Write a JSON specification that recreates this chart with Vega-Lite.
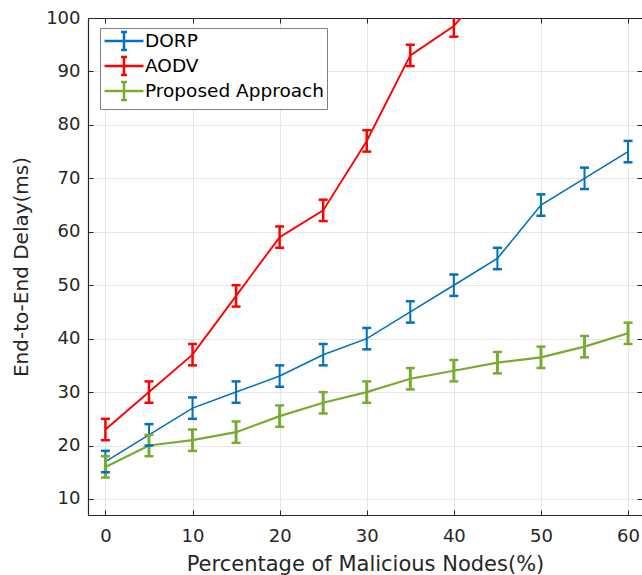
{
  "$schema": "https://vega.github.io/schema/vega-lite/v6.json",
  "width": 554,
  "height": 497,
  "autosize": {"type": "none"},
  "padding": {"left": 88, "top": 18, "right": 0, "bottom": 60},
  "background": "white",
  "config": {
    "view": {"stroke": null},
    "font": "DejaVu Sans",
    "axis": {
      "domainColor": "#262626",
      "tickColor": "#262626",
      "labelColor": "#262626",
      "titleColor": "#262626",
      "labelFont": "DejaVu Sans",
      "titleFont": "DejaVu Sans",
      "labelFontSize": 18,
      "titleFontSize": 21,
      "titleFontWeight": "normal",
      "gridColor": "#e6e6e6",
      "tickSize": -5,
      "domainWidth": 1.2
    },
    "legend": {
      "orient": "none",
      "legendX": 12,
      "legendY": 10,
      "title": null,
      "symbolType": "M-2.29,0H2.29M0,-1.06V1.06M-0.35,-1.06H0.35M-0.35,1.06H0.35",
      "symbolSize": 289,
      "symbolStrokeWidth": 2.5,
      "symbolOffset": 11,
      "labelFontSize": 18.5,
      "labelColor": "#000000",
      "labelFont": "DejaVu Sans",
      "labelLimit": 0,
      "strokeColor": "#808080",
      "fillColor": "white",
      "padding": 3,
      "rowPadding": -5,
      "labelOffset": 11
    }
  },
  "data": {
    "values": [
      {"x": 0, "s": "DORP", "y": 17, "lo": 15, "hi": 19},
      {"x": 5, "s": "DORP", "y": 22, "lo": 20, "hi": 24},
      {"x": 10, "s": "DORP", "y": 27, "lo": 25, "hi": 29},
      {"x": 15, "s": "DORP", "y": 30, "lo": 28, "hi": 32},
      {"x": 20, "s": "DORP", "y": 33, "lo": 31, "hi": 35},
      {"x": 25, "s": "DORP", "y": 37, "lo": 35, "hi": 39},
      {"x": 30, "s": "DORP", "y": 40, "lo": 38, "hi": 42},
      {"x": 35, "s": "DORP", "y": 45, "lo": 43, "hi": 47},
      {"x": 40, "s": "DORP", "y": 50, "lo": 48, "hi": 52},
      {"x": 45, "s": "DORP", "y": 55, "lo": 53, "hi": 57},
      {"x": 50, "s": "DORP", "y": 65, "lo": 63, "hi": 67},
      {"x": 55, "s": "DORP", "y": 70, "lo": 68, "hi": 72},
      {"x": 60, "s": "DORP", "y": 75, "lo": 73, "hi": 77},
      {"x": 0, "s": "AODV", "y": 23, "lo": 21, "hi": 25},
      {"x": 5, "s": "AODV", "y": 30, "lo": 28, "hi": 32},
      {"x": 10, "s": "AODV", "y": 37, "lo": 35, "hi": 39},
      {"x": 15, "s": "AODV", "y": 48, "lo": 46, "hi": 50},
      {"x": 20, "s": "AODV", "y": 59, "lo": 57, "hi": 61},
      {"x": 25, "s": "AODV", "y": 64, "lo": 62, "hi": 66},
      {"x": 30, "s": "AODV", "y": 77, "lo": 75, "hi": 79},
      {"x": 35, "s": "AODV", "y": 93, "lo": 91, "hi": 95},
      {"x": 40, "s": "AODV", "y": 98.5, "lo": 96.5, "hi": 100.5},
      {"x": 45, "s": "AODV", "y": 108, "lo": 106, "hi": 110},
      {"x": 0, "s": "Proposed Approach", "y": 16, "lo": 14, "hi": 18},
      {"x": 5, "s": "Proposed Approach", "y": 20, "lo": 18, "hi": 22},
      {"x": 10, "s": "Proposed Approach", "y": 21, "lo": 19, "hi": 23},
      {"x": 15, "s": "Proposed Approach", "y": 22.5, "lo": 20.5, "hi": 24.5},
      {"x": 20, "s": "Proposed Approach", "y": 25.5, "lo": 23.5, "hi": 27.5},
      {"x": 25, "s": "Proposed Approach", "y": 28, "lo": 26, "hi": 30},
      {"x": 30, "s": "Proposed Approach", "y": 30, "lo": 28, "hi": 32},
      {"x": 35, "s": "Proposed Approach", "y": 32.5, "lo": 30.5, "hi": 34.5},
      {"x": 40, "s": "Proposed Approach", "y": 34, "lo": 32, "hi": 36},
      {"x": 45, "s": "Proposed Approach", "y": 35.5, "lo": 33.5, "hi": 37.5},
      {"x": 50, "s": "Proposed Approach", "y": 36.5, "lo": 34.5, "hi": 38.5},
      {"x": 55, "s": "Proposed Approach", "y": 38.5, "lo": 36.5, "hi": 40.5},
      {"x": 60, "s": "Proposed Approach", "y": 41, "lo": 39, "hi": 43}
    ]
  },
  "encoding": {
    "color": {
      "field": "s",
      "type": "nominal",
      "scale": {"domain": ["DORP", "AODV", "Proposed Approach"], "range": ["#0072BD", "#FF0000", "#77AC30"]},
      "legend": {}
    }
  },
  "layer": [
    {
      "mark": {"type": "line", "clip": true},
      "encoding": {
        "x": {"field": "x", "type": "quantitative", "scale": {"domain": [-2, 61.6], "nice": false, "zero": false},
              "axis": {"orient": "bottom", "values": [0, 10, 20, 30, 40, 50, 60], "title": "Percentage of Malicious Nodes(%)", "labelPadding": 17, "titlePadding": 8, "grid": true}},
        "y": {"field": "y", "type": "quantitative", "scale": {"domain": [7, 100], "nice": false, "zero": false},
              "axis": {"orient": "left", "values": [10, 20, 30, 40, 50, 60, 70, 80, 90, 100], "title": "End-to-End Delay(ms)", "titleFontSize": 20, "labelPadding": 13, "titlePadding": 14, "grid": true}},
        "strokeWidth": {"field": "s", "type": "nominal", "scale": {"domain": ["DORP", "AODV", "Proposed Approach"], "range": [1.6, 2.2, 2.4]}, "legend": null}
      }
    },
    {
      "mark": {"type": "rule", "clip": true},
      "encoding": {
        "x": {"field": "x", "type": "quantitative", "axis": null},
        "y": {"field": "lo", "type": "quantitative", "axis": null},
        "y2": {"field": "hi"},
        "strokeWidth": {"field": "s", "type": "nominal", "scale": {"domain": ["DORP", "AODV", "Proposed Approach"], "range": [2, 3, 3]}, "legend": null}
      }
    },
    {
      "mark": {"type": "tick", "orient": "horizontal", "size": 9, "thickness": 2.5, "clip": true, "opacity": 1},
      "encoding": {
        "x": {"field": "x", "type": "quantitative", "axis": null},
        "y": {"field": "lo", "type": "quantitative", "axis": null}
      }
    },
    {
      "mark": {"type": "tick", "orient": "horizontal", "size": 9, "thickness": 2.5, "clip": true, "opacity": 1},
      "encoding": {
        "x": {"field": "x", "type": "quantitative",
              "axis": {"orient": "top", "values": [0, 10, 20, 30, 40, 50, 60], "labels": false, "title": null, "grid": false, "domain": true}},
        "y": {"field": "hi", "type": "quantitative",
              "axis": {"orient": "right", "values": [10, 20, 30, 40, 50, 60, 70, 80, 90, 100], "labels": false, "title": null, "grid": false, "domain": false}}
      }
    }
  ],
  "resolve": {"axis": {"x": "independent", "y": "independent"}, "scale": {"strokeWidth": "independent"}}
}
